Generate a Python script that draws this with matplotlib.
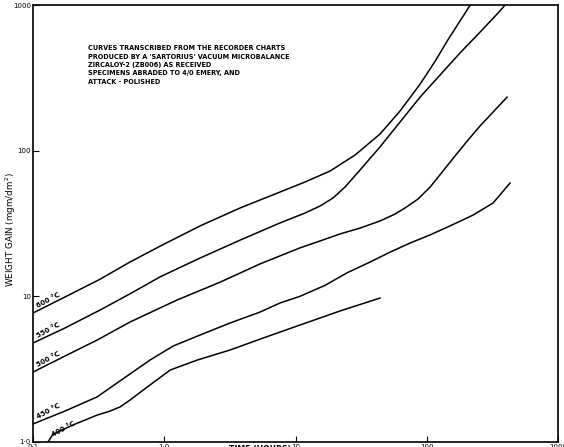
import matplotlib.pyplot as plt
import matplotlib.ticker as mticker

# weight gain curves (hours, mgm/dm^2)
t_600 = [0.1, 0.175, 0.324, 0.548, 0.929, 1.87, 3.78, 7.62, 11.8, 18.3, 28.4, 44.0,
         62.5, 88.9, 116, 143, 173, 196, 214]
w_600 = [7.68, 9.89, 13.1, 17.2, 22.1, 30.4, 40.4, 52.0, 60.9, 72.4, 93.3, 130,
         187, 286, 412, 565, 739, 880, 998]

t_550 = [0.1, 0.175, 0.324, 0.548, 0.929, 1.87, 3.78, 7.62, 11.8, 15.4, 19.3, 23.8,
         31.0, 44.0, 62.5, 88.9, 126, 179, 255, 349, 395]
w_550 = [4.78, 6.06, 8.05, 10.4, 13.6, 18.3, 24.3, 31.9, 37.3, 41.7, 47.3, 56.2,
         73.6, 106, 157, 233, 330, 468, 652, 880, 998]

t_500 = [0.1, 0.175, 0.308, 0.548, 1.25, 2.66, 5.37, 10.8, 15.4, 21.8, 31.0, 44.0,
         57.3, 68.2, 85.7, 106, 131, 164, 206, 255, 320, 409]
w_500 = [3.02, 3.89, 5.01, 6.66, 9.43, 12.5, 16.7, 21.5, 24.0, 26.8, 29.4, 32.9,
         36.7, 40.4, 46.5, 56.2, 71.3, 91.8, 118, 148, 184, 233]

t_450 = [0.1, 0.175, 0.308, 0.548, 0.778, 1.17, 1.87, 3.17, 5.37, 7.62, 10.8, 16.8,
         24.7, 37.0, 52.5, 74.5, 106, 150, 225, 320, 431]
w_450 = [1.33, 1.63, 2.04, 2.93, 3.65, 4.56, 5.42, 6.56, 7.80, 9.00, 10.0, 11.9,
         14.5, 17.2, 20.1, 23.2, 26.4, 30.4, 36.1, 43.7, 59.9]

t_400 = [0.130, 0.142, 0.202, 0.308, 0.386, 0.460, 0.548, 0.740, 1.11, 1.78, 3.17,
         5.66, 10.8, 21.8, 44.0]
w_400 = [1.0, 1.13, 1.31, 1.53, 1.63, 1.74, 1.94, 2.38, 3.12, 3.65, 4.28,
         5.17, 6.35, 7.93, 9.73]

curves = [
    ("600 °C", t_600, w_600),
    ("550 °C", t_550, w_550),
    ("500 °C", t_500, w_500),
    ("450 °C", t_450, w_450),
    ("400 °C", t_400, w_400),
]

x_ticks = [0.1, 1, 10, 100, 1000]
x_tick_labels = ["0·1", "1·0", "10", "100", "1000"]
y_ticks = [1, 10, 100, 1000]
y_tick_labels = ["1·0", "10", "100", "1000"]

note = ("CURVES TRANSCRIBED FROM THE RECORDER CHARTS\n"
        "PRODUCED BY A 'SARTORIUS' VACUUM MICROBALANCE\n"
        "ZIRCALOY-2 (ZB006) AS RECEIVED\n"
        "SPECIMENS ABRADED TO 4/0 EMERY, AND\n"
        "ATTACK - POLISHED")

fig = plt.figure(figsize=(5.64, 4.47), dpi=100)
ax = fig.add_axes([33 / 564, 1 - 442 / 447, 525 / 564, 437 / 447])

for label, t, w in curves:
    ax.plot(t, w, color="black", lw=1.1, solid_joinstyle="round")
    ax.annotate(label, xy=(t[0], w[0]), xytext=(4, 3), textcoords="offset points",
                rotation=28, fontsize=5, fontweight="bold",
                ha="left", va="bottom", rotation_mode="anchor")

ax.set_xscale("log")
ax.set_yscale("log")
ax.set_xlim(0.1, 1000)
ax.set_ylim(1, 1000)

ax.set_xticks(x_ticks)
ax.set_xticklabels(x_tick_labels)
ax.set_yticks(y_ticks)
ax.set_yticklabels(y_tick_labels)
ax.xaxis.set_minor_locator(mticker.NullLocator())
ax.yaxis.set_minor_locator(mticker.NullLocator())
ax.tick_params(direction="in", length=4, width=0.8, labelsize=5, pad=1.5)

for s in ax.spines.values():
    s.set_linewidth(1.2)

ax.text(0.105, 0.908, note, transform=ax.transAxes, fontsize=4.7,
        fontweight="bold", va="top", ha="left", linespacing=1.48)

fig.text(11 / 564, 1 - 230 / 447, "WEIGHT GAIN (mgm/dm$^2$)", rotation=90,
         fontsize=6.3, ha="center", va="center")
fig.text(260 / 564, 1 - 449 / 447, "TIME (HOURS)", fontsize=5.6,
         fontweight="bold", ha="center", va="center")

fig.savefig("out.png", dpi=100)
